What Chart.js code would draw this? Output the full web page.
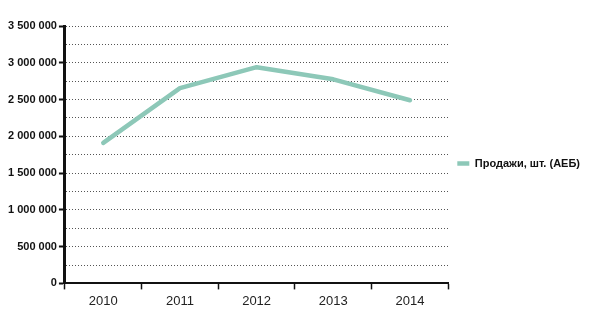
<!DOCTYPE html>
<html>
<head>
<meta charset="utf-8">
<script src="https://cdn.jsdelivr.net/npm/chart.js@4"></script>
<style>
  html, body { margin: 0; padding: 0; background: #ffffff; }
  #wrap { width: 591px; height: 327px; position: relative; }
</style>
</head>
<body>
<div id="wrap"><canvas id="c" width="591" height="327"></canvas></div>
<script>
// Annual car sales, units (AEB)
const years = ['2010', '2011', '2012', '2013', '2014'];
const sales = [1910000, 2655000, 2940000, 2775000, 2490000];
const seriesLabel = 'Продажи, шт. (АЕБ)';
const yMax = 3500000;
const yStep = 250000;

const lineColor = '#8dc8b8';

// Thousands separated by a space: 3 500 000
function fmt(v) {
  return String(v).replace(/\B(?=(\d{3})+(?!\d))/g, ' ');
}

// Lift the right-hand legend a little above the vertical middle
const legendLift = {
  id: 'legendLift',
  afterLayout(chart) {
    if (chart.legend) {
      chart.legend.top -= 12;
    }
  }
};

new Chart(document.getElementById('c'), {
  type: 'line',
  data: {
    labels: years,
    datasets: [{
      label: seriesLabel,
      data: sales,
      borderColor: lineColor,
      backgroundColor: lineColor,
      borderWidth: 4.5,
      borderCapStyle: 'round',
      borderJoinStyle: 'round',
      pointRadius: 0,
      pointHoverRadius: 0,
      tension: 0,
      fill: false
    }]
  },
  plugins: [legendLift],
  options: {
    responsive: false,
    animation: false,
    devicePixelRatio: 1,
    layout: { padding: { left: 6, top: 26, right: 1, bottom: 14 } },
    plugins: {
      tooltip: { enabled: false },
      legend: {
        position: 'right',
        align: 'center',
        labels: {
          usePointStyle: true,
          pointStyle: 'line',
          pointStyleWidth: 12,
          boxHeight: 5,
          padding: 9,
          color: '#111111',
          font: { family: 'Liberation Sans, Arial, sans-serif', size: 11, weight: 'bold' }
        }
      }
    },
    scales: {
      x: {
        offset: true,
        grid: {
          display: true,
          offset: true,
          drawOnChartArea: false,
          drawTicks: true,
          tickLength: 6,
          tickWidth: 1.5,
          tickColor: '#111111'
        },
        border: { display: true, color: '#111111', width: 2 },
        ticks: {
          padding: 4,
          color: '#222222',
          font: { family: 'Liberation Sans, Arial, sans-serif', size: 13 }
        }
      },
      y: {
        min: 0,
        max: yMax,
        grid: {
          color: '#555555',
          lineWidth: 1,
          drawTicks: true,
          tickLength: 6,
          tickWidth: 2,
          tickColor: (ctx) => (ctx.tick && ctx.tick.value % 500000 === 0) ? '#111111' : 'rgba(0,0,0,0)'
        },
        border: { display: true, color: '#111111', width: 3, dash: [1, 2] },
        ticks: {
          stepSize: yStep,
          autoSkip: false,
          padding: 2,
          color: '#111111',
          font: { family: 'Liberation Sans, Arial, sans-serif', size: 11, weight: 'bold' },
          callback: (v) => (v % 500000 === 0) ? fmt(v) : ''
        }
      }
    }
  }
});
</script>
</body>
</html>
